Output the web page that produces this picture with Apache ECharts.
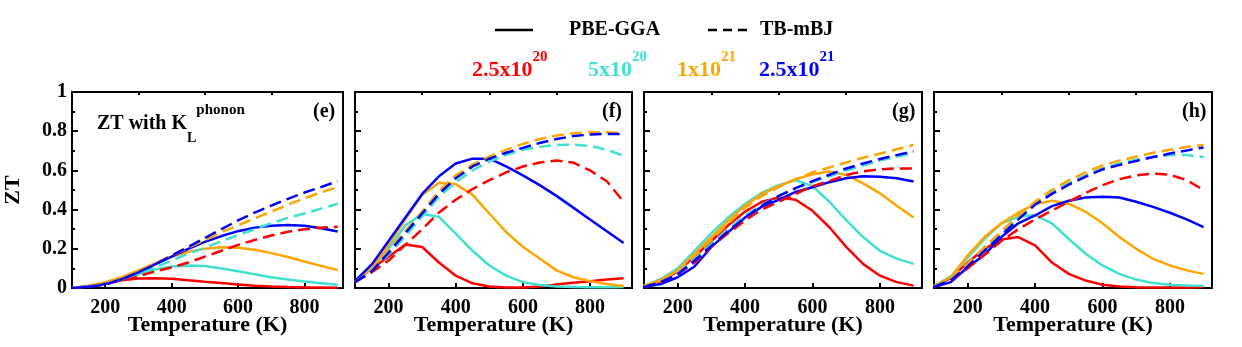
<!DOCTYPE html>
<html>
<head>
<meta charset="utf-8">
<script src="https://cdn.jsdelivr.net/npm/echarts@6/dist/echarts.min.js"></script>
<style>
  html, body { margin: 0; padding: 0; background: #fff; }
  #chart { width: 1242px; height: 347px; }
</style>
</head>
<body>
<div id="chart"></div>
<script>
// temperature grid (K)
const temps = [100, 150, 200, 250, 300, 350, 400, 450, 500, 550, 600, 650, 700, 750, 800, 850, 900]

const xLabels = [200, 400, 600, 800]
const xMinor = [300, 500, 700]
const carriers = ['2.5x10|20', '5x10|20', '1x10|21', '2.5x10|21']
const panelTags = ['(e)', '(f)', '(g)', '(h)']

// panel (e)  PBE-GGA solid / TB-mBJ dashed, order: 2.5e20, 5e20, 1e21, 2.5e21
const ePBE_r = [0, 0.01, 0.025, 0.04, 0.048, 0.05, 0.047, 0.04, 0.032, 0.025, 0.018, 0.012, 0.008, 0.005, 0.003, 0.002, 0.001]
const ePBE_c = [0, 0.01, 0.025, 0.045, 0.07, 0.095, 0.11, 0.115, 0.112, 0.1, 0.085, 0.07, 0.055, 0.043, 0.033, 0.024, 0.017]
const ePBE_o = [0, 0.01, 0.03, 0.055, 0.09, 0.125, 0.16, 0.185, 0.2, 0.208, 0.205, 0.195, 0.178, 0.158, 0.135, 0.113, 0.092]
const ePBE_b = [0, 0.008, 0.02, 0.045, 0.08, 0.12, 0.16, 0.2, 0.235, 0.265, 0.29, 0.308, 0.318, 0.322, 0.318, 0.305, 0.288]
const eMBJ_r = [0, 0.008, 0.02, 0.04, 0.06, 0.085, 0.105, 0.13, 0.16, 0.19, 0.22, 0.245, 0.268, 0.287, 0.3, 0.308, 0.312]
const eMBJ_c = [0, 0.008, 0.02, 0.045, 0.075, 0.105, 0.14, 0.175, 0.205, 0.24, 0.27, 0.3, 0.33, 0.358, 0.38, 0.405, 0.43]
const eMBJ_o = [0, 0.008, 0.022, 0.05, 0.085, 0.125, 0.165, 0.205, 0.245, 0.285, 0.32, 0.355, 0.39, 0.425, 0.458, 0.488, 0.515]
const eMBJ_b = [0, 0.005, 0.018, 0.045, 0.08, 0.12, 0.165, 0.21, 0.255, 0.3, 0.345, 0.385, 0.42, 0.455, 0.487, 0.515, 0.545]

// panel (f)
const fPBE_r = [0.03, 0.1, 0.16, 0.222, 0.209, 0.13, 0.063, 0.024, 0.008, 0.003, 0.003, 0.008, 0.018, 0.027, 0.035, 0.043, 0.05]
const fPBE_c = [0.03, 0.1, 0.2, 0.32, 0.377, 0.363, 0.277, 0.19, 0.115, 0.063, 0.03, 0.015, 0.008, 0.005, 0.004, 0.004, 0.005]
const fPBE_o = [0.03, 0.1, 0.22, 0.35, 0.474, 0.537, 0.53, 0.475, 0.38, 0.286, 0.21, 0.15, 0.09, 0.055, 0.035, 0.02, 0.01]
const fPBE_b = [0.035, 0.12, 0.24, 0.36, 0.48, 0.57, 0.635, 0.66, 0.66, 0.62, 0.575, 0.525, 0.47, 0.41, 0.35, 0.29, 0.23]
const fMBJ_r = [0.03, 0.08, 0.14, 0.22, 0.3, 0.385, 0.45, 0.505, 0.55, 0.59, 0.62, 0.64, 0.65, 0.64, 0.6, 0.545, 0.44]
const fMBJ_c = [0.03, 0.09, 0.17, 0.265, 0.365, 0.465, 0.54, 0.6, 0.645, 0.68, 0.705, 0.72, 0.73, 0.732, 0.725, 0.705, 0.675]
const fMBJ_o = [0.03, 0.09, 0.19, 0.29, 0.39, 0.495, 0.575, 0.63, 0.67, 0.705, 0.735, 0.76, 0.778, 0.79, 0.795, 0.795, 0.79]
const fMBJ_b = [0.03, 0.085, 0.18, 0.28, 0.38, 0.48, 0.56, 0.62, 0.66, 0.69, 0.715, 0.74, 0.76, 0.775, 0.783, 0.786, 0.786]

// panel (g)
const gPBE_r = [0.01, 0.035, 0.085, 0.16, 0.24, 0.32, 0.39, 0.44, 0.462, 0.45, 0.394, 0.31, 0.21, 0.123, 0.063, 0.03, 0.012]
const gPBE_c = [0.01, 0.046, 0.1, 0.19, 0.28, 0.36, 0.43, 0.486, 0.525, 0.55, 0.52, 0.44, 0.346, 0.26, 0.19, 0.15, 0.123]
const gPBE_o = [0.01, 0.04, 0.09, 0.175, 0.26, 0.345, 0.42, 0.48, 0.52, 0.555, 0.58, 0.594, 0.577, 0.534, 0.483, 0.42, 0.36]
const gPBE_b = [0.005, 0.02, 0.055, 0.11, 0.21, 0.285, 0.36, 0.415, 0.45, 0.49, 0.514, 0.54, 0.56, 0.57, 0.568, 0.56, 0.543]
const gMBJ_r = [0.005, 0.03, 0.07, 0.13, 0.21, 0.28, 0.345, 0.4, 0.44, 0.48, 0.52, 0.545, 0.577, 0.595, 0.606, 0.61, 0.61]
const gMBJ_c = [0.01, 0.035, 0.08, 0.15, 0.225, 0.3, 0.37, 0.425, 0.47, 0.51, 0.54, 0.57, 0.6, 0.625, 0.65, 0.67, 0.69]
const gMBJ_o = [0.01, 0.04, 0.09, 0.165, 0.245, 0.33, 0.41, 0.47, 0.515, 0.555, 0.59, 0.615, 0.64, 0.665, 0.685, 0.708, 0.73]
const gMBJ_b = [0.005, 0.03, 0.07, 0.14, 0.215, 0.29, 0.36, 0.42, 0.47, 0.51, 0.545, 0.578, 0.61, 0.635, 0.658, 0.678, 0.697]

// panel (h)
const hPBE_r = [0.01, 0.05, 0.13, 0.2, 0.247, 0.26, 0.217, 0.13, 0.072, 0.038, 0.017, 0.008, 0.004, 0.002, 0.002, 0.003, 0.005]
const hPBE_c = [0.01, 0.06, 0.155, 0.25, 0.33, 0.363, 0.372, 0.33, 0.25, 0.175, 0.115, 0.072, 0.043, 0.025, 0.017, 0.013, 0.012]
const hPBE_o = [0.01, 0.055, 0.166, 0.26, 0.33, 0.384, 0.428, 0.445, 0.43, 0.389, 0.33, 0.26, 0.2, 0.149, 0.115, 0.09, 0.072]
const hPBE_b = [0.005, 0.03, 0.106, 0.17, 0.26, 0.33, 0.37, 0.418, 0.445, 0.462, 0.466, 0.462, 0.44, 0.414, 0.384, 0.35, 0.31]
const hMBJ_r = [0.005, 0.04, 0.1, 0.17, 0.24, 0.3, 0.35, 0.395, 0.44, 0.485, 0.525, 0.555, 0.575, 0.583, 0.578, 0.55, 0.5]
const hMBJ_c = [0.01, 0.05, 0.12, 0.2, 0.28, 0.36, 0.43, 0.49, 0.535, 0.575, 0.61, 0.635, 0.655, 0.67, 0.678, 0.678, 0.668]
const hMBJ_o = [0.01, 0.05, 0.125, 0.21, 0.29, 0.37, 0.44, 0.5, 0.55, 0.59, 0.625, 0.65, 0.67, 0.69, 0.705, 0.72, 0.73]
const hMBJ_b = [0.005, 0.04, 0.11, 0.19, 0.27, 0.35, 0.425, 0.48, 0.527, 0.568, 0.605, 0.628, 0.648, 0.668, 0.686, 0.702, 0.717]

const colors = ['#ff0000', '#40e0d0', '#ffa500', '#0000ff']
const serif = '"Liberation Serif", "Times New Roman", serif'

const panels = [
  { pbe: [ePBE_r, ePBE_c, ePBE_o, ePBE_b], mbj: [eMBJ_r, eMBJ_c, eMBJ_o, eMBJ_b], left: 72, width: 271, max: 916 },
  { pbe: [fPBE_r, fPBE_c, fPBE_o, fPBE_b], mbj: [fMBJ_r, fMBJ_c, fMBJ_o, fMBJ_b], left: 355, width: 277, max: 925 },
  { pbe: [gPBE_r, gPBE_c, gPBE_o, gPBE_b], mbj: [gMBJ_r, gMBJ_c, gMBJ_o, gMBJ_b], left: 644, width: 278, max: 925 },
  { pbe: [hPBE_r, hPBE_c, hPBE_o, hPBE_b], mbj: [hMBJ_r, hMBJ_c, hMBJ_o, hMBJ_b], left: 934, width: 278, max: 925 }
]
const gridTop = 92
const gridHeight = 196

const chart = echarts.init(document.getElementById('chart'))

const grid = []
const xAxis = []
const yAxis = []
const series = []
const graphic = []

panels.forEach((p, i) => {
  grid.push({
    left: p.left, top: gridTop, width: p.width, height: gridHeight,
    show: true, borderColor: '#000', borderWidth: 2, backgroundColor: 'transparent'
  })
  // main x axis: labels and major ticks
  xAxis.push({
    type: 'value', gridIndex: i, min: 100, max: p.max,
    axisLine: { show: false },
    splitLine: { show: false },
    axisTick: { show: true, inside: true, length: 5, customValues: xLabels, lineStyle: { color: '#000', width: 2 } },
    axisLabel: {
      customValues: xLabels, margin: 10,
      color: '#000', fontFamily: serif, fontWeight: 'bold', fontSize: 20
    },
    name: 'Temperature (K)', nameLocation: 'middle', nameGap: 26, nameMoveOverlap: false,
    nameTextStyle: { color: '#000', fontFamily: serif, fontWeight: 'bold', fontSize: 22 }
  })
  // minor x ticks
  xAxis.push({
    type: 'value', gridIndex: i, min: 100, max: p.max,
    axisLine: { show: false },
    splitLine: { show: false },
    axisLabel: { show: false },
    axisTick: { show: true, inside: true, length: 3, customValues: xMinor, lineStyle: { color: '#000', width: 2 } }
  })
  yAxis.push({
    type: 'value', gridIndex: i, min: 0, max: 1, interval: 0.2,
    axisLine: { show: false },
    splitLine: { show: false },
    axisTick: { show: true, inside: true, length: 6, lineStyle: { color: '#000', width: 2 } },
    minorTick: { show: true, splitNumber: 2, length: 3, lineStyle: { color: '#000', width: 2 } },
    axisLabel: {
      show: i === 0, margin: 5,
      color: '#000', fontFamily: serif, fontWeight: 'bold', fontSize: 20
    },
    name: i === 0 ? 'ZT' : '', nameLocation: 'middle', nameGap: 48,
    nameTextStyle: { color: '#000', fontFamily: serif, fontWeight: 'bold', fontSize: 22 }
  })
  p.pbe.forEach((vals, k) => {
    series.push({
      type: 'line', xAxisIndex: i * 2, yAxisIndex: i,
      data: temps.map((t, j) => [t, vals[j]]),
      showSymbol: false, symbol: 'none', silent: true, animation: false,
      lineStyle: { color: colors[k], width: 2.5, type: 'solid' }
    })
  })
  p.mbj.forEach((vals, k) => {
    series.push({
      type: 'line', xAxisIndex: i * 2, yAxisIndex: i,
      data: temps.map((t, j) => [t, vals[j]]),
      showSymbol: false, symbol: 'none', silent: true, animation: false,
      lineStyle: { color: colors[k], width: 2.5, type: [12, 6] }
    })
  })
  graphic.push({
    type: 'text', left: p.left + p.width - 30, top: 102,
    style: { text: panelTags[i], fill: '#000', font: 'bold 20px ' + serif }
  })
})

// line-style legend
graphic.push(
  { type: 'line', shape: { x1: 495, y1: 30, x2: 533, y2: 30 }, style: { stroke: '#000', lineWidth: 2.5 } },
  { type: 'text', x: 569, y: 30, style: { text: 'PBE-GGA', fill: '#000', font: 'bold 20px ' + serif, verticalAlign: 'middle' } },
  { type: 'line', shape: { x1: 708, y1: 30, x2: 750, y2: 30 }, style: { stroke: '#000', lineWidth: 2.5, lineDash: [9, 6] } },
  { type: 'text', x: 760, y: 30, style: { text: 'TB-mBJ', fill: '#000', font: 'bold 20px ' + serif, verticalAlign: 'middle' } }
)

// carrier concentration legend
const carrierX = [472, 588, 677, 759]
carriers.forEach((c, k) => {
  const [base, sup] = c.split('|')
  graphic.push({
    type: 'text', x: carrierX[k], y: 50,
    style: {
      text: '{b|' + base + '}{s|' + sup + '}',
      verticalAlign: 'top',
      rich: {
        b: { fill: colors[k], fontFamily: serif, fontWeight: 'bold', fontSize: 22, lineHeight: 40 },
        s: { fill: colors[k], fontFamily: serif, fontWeight: 'bold', fontSize: 15, lineHeight: 14, verticalAlign: 'top' }
      }
    }
  })
})

// annotation in panel (e)
graphic.push({
  type: 'text', x: 97, y: 103,
  style: {
    text: '{b|ZT with K}{l|L}{p|phonon}',
    verticalAlign: 'top',
    rich: {
      b: { fill: '#000', fontFamily: serif, fontWeight: 'bold', fontSize: 20, lineHeight: 42 },
      l: { fill: '#000', fontFamily: serif, fontWeight: 'bold', fontSize: 14, lineHeight: 20, verticalAlign: 'bottom' },
      p: { fill: '#000', fontFamily: serif, fontWeight: 'bold', fontSize: 15, lineHeight: 22, verticalAlign: 'top' }
    }
  }
})

chart.setOption({
  animation: false,
  grid: grid,
  xAxis: xAxis,
  yAxis: yAxis,
  series: series,
  graphic: graphic
})
</script>
</body>
</html>
